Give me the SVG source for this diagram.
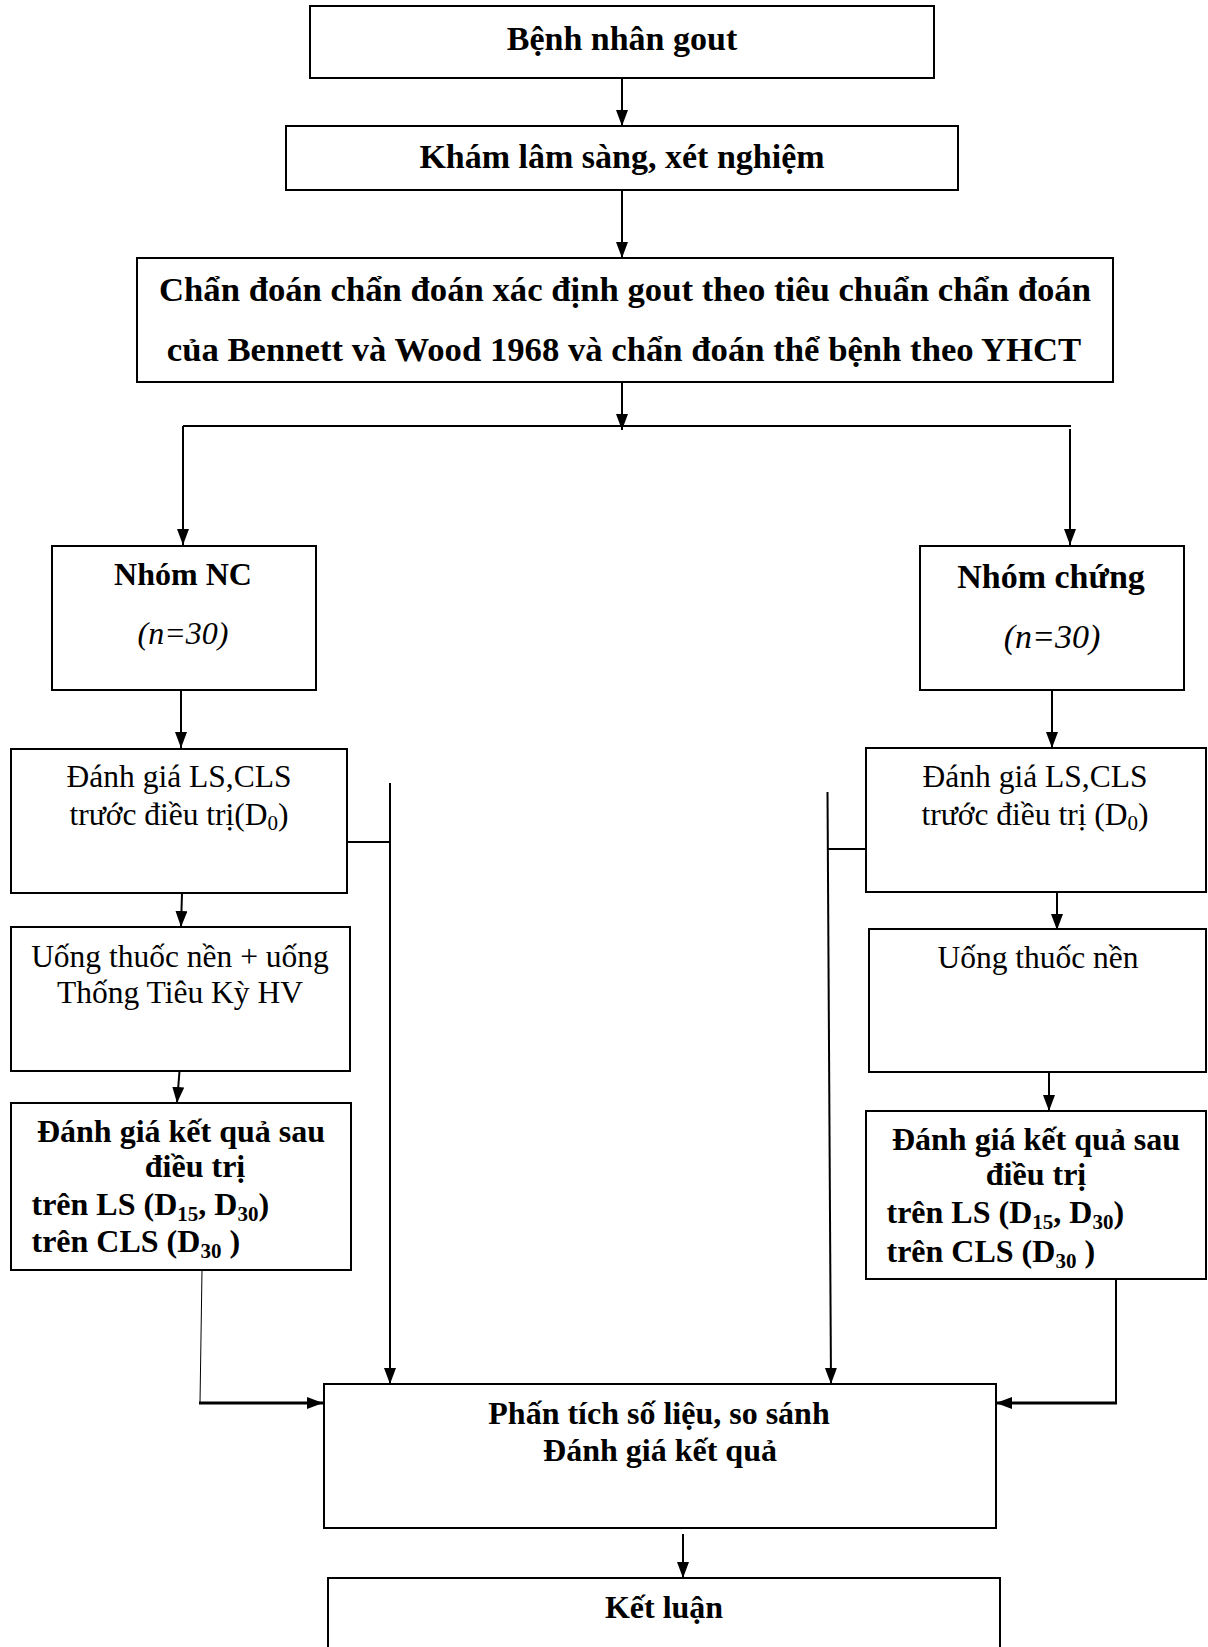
<svg xmlns="http://www.w3.org/2000/svg" width="1208" height="1647" viewBox="0 0 1208 1647">
<style>
rect.box{fill:#fff;stroke:#000;stroke-width:2}
text{font-family:"Liberation Serif","Times New Roman",serif;fill:#000}
.b{font-weight:bold;font-size:32px}
.b34{font-weight:bold;font-size:34px}
.r{font-size:31.5px}
.i{font-style:italic;font-size:32px}
.c{text-anchor:middle}
.cn path{fill:none;stroke:#000;stroke-width:2}
.cn path.thin{stroke-width:1}
.cn path.thick{stroke-width:3}
</style>
<defs>
<marker id="ah" markerUnits="userSpaceOnUse" markerWidth="18" markerHeight="14" refX="16" refY="6" orient="auto">
<path d="M0,0 L16,6 L0,12 z" fill="#000"/>
</marker>
</defs>
<rect width="1208" height="1647" fill="#fff"/>

<g class="cn">
<path d="M622,78 V126" marker-end="url(#ah)"/>
<path d="M622,190 V258" marker-end="url(#ah)"/>
<path d="M622,382 V430" marker-end="url(#ah)"/>
<path d="M183,426 H1071"/>
<path d="M183,426 V545" marker-end="url(#ah)"/>
<path d="M1070,429 V545" marker-end="url(#ah)"/>
<path d="M181,690 V748" marker-end="url(#ah)"/>
<path d="M1052,690 V748" marker-end="url(#ah)"/>
<path d="M347,842 H390"/>
<path d="M390,783 V1384" marker-end="url(#ah)"/>
<path d="M866,849 H827.5"/>
<path d="M827.5,792 L831,1384" marker-end="url(#ah)"/>
<path d="M182,893 L181,927" marker-end="url(#ah)"/>
<path d="M1057,893 V930" marker-end="url(#ah)"/>
<path d="M179.5,1071 L177,1103" marker-end="url(#ah)"/>
<path d="M1049,1071 V1111" marker-end="url(#ah)"/>
<path class="thin" d="M202,1270 L200,1403"/>
<path class="thick" d="M199,1403 H323" marker-end="url(#ah)"/>
<path d="M1116,1279 V1403"/>
<path class="thick" d="M1117,1403 H996" marker-end="url(#ah)"/>
<path d="M683,1534 V1578" marker-end="url(#ah)"/>
</g>

<g id="n1">
<rect class="box" x="310" y="6" width="624" height="72"/>
<text class="b34 c" x="622" y="50">Bệnh nhân gout</text>
</g>
<g id="n2">
<rect class="box" x="286" y="126" width="672" height="64"/>
<text class="b34 c" x="622" y="168">Khám lâm sàng, xét nghiệm</text>
</g>
<g id="n3">
<rect class="box" x="137" y="258" width="976" height="124"/>
<text class="b34 c" x="625" y="301" style="font-size:34.7px">Chẩn đoán chẩn đoán xác định gout theo tiêu chuẩn chẩn đoán</text>
<text class="b34 c" x="624" y="361" style="font-size:34.7px">của Bennett và Wood 1968 và chẩn đoán thể bệnh theo YHCT</text>
</g>
<g id="n4">
<rect class="box" x="52" y="546" width="264" height="144"/>
<text class="b c" x="183" y="585">Nhóm NC</text>
<text class="i c" x="183" y="644">(n=30)</text>
</g>
<g id="n5">
<rect class="box" x="920" y="546" width="264" height="144"/>
<text class="b34 c" x="1051" y="588">Nhóm chứng</text>
<text class="i c" x="1052" y="648" style="font-size:34px">(n=30)</text>
</g>
<g id="n6">
<rect class="box" x="11" y="749" width="336" height="144"/>
<text class="r c" x="179" y="787">Đánh giá LS,CLS</text>
<text class="r c" x="179" y="825">trước điều trị(D<tspan dy="5" font-size="21">0</tspan><tspan dy="-5">)</tspan></text>
</g>
<g id="n7">
<rect class="box" x="866" y="748" width="340" height="144"/>
<text class="r c" x="1035" y="787">Đánh giá LS,CLS</text>
<text class="r c" x="1035" y="825">trước điều trị (D<tspan dy="5" font-size="21">0</tspan><tspan dy="-5">)</tspan></text>
</g>
<g id="n8">
<rect class="box" x="11" y="927" width="339" height="144"/>
<text class="r c" x="180" y="967">Uống thuốc nền + uống</text>
<text class="r c" x="180" y="1003">Thống Tiêu Kỳ HV</text>
</g>
<g id="n9">
<rect class="box" x="869" y="929" width="337" height="143"/>
<text class="r c" x="1038" y="968">Uống thuốc nền</text>
</g>
<g id="n10">
<rect class="box" x="11" y="1103" width="340" height="167"/>
<text class="b c" x="181" y="1142">Đánh giá kết quả sau</text>
<text class="b c" x="195" y="1177">điều trị</text>
<text class="b" x="31.5" y="1215">trên LS (D<tspan dy="6" font-size="21">15</tspan><tspan dy="-6">, D</tspan><tspan dy="6" font-size="21">30</tspan><tspan dy="-6">)</tspan></text>
<text class="b" x="31.5" y="1252">trên CLS (D<tspan dy="6" font-size="21">30</tspan><tspan dy="-6"> )</tspan></text>
</g>
<g id="n11">
<rect class="box" x="866" y="1111" width="340" height="168"/>
<text class="b c" x="1036" y="1150">Đánh giá kết quả sau</text>
<text class="b c" x="1036" y="1185">điều trị</text>
<text class="b" x="886.5" y="1223">trên LS (D<tspan dy="6" font-size="21">15</tspan><tspan dy="-6">, D</tspan><tspan dy="6" font-size="21">30</tspan><tspan dy="-6">)</tspan></text>
<text class="b" x="886.5" y="1262">trên CLS (D<tspan dy="6" font-size="21">30</tspan><tspan dy="-6"> )</tspan></text>
</g>
<g id="n12">
<rect class="box" x="324" y="1384" width="672" height="144"/>
<text class="b c" x="659" y="1424">Phấn tích số liệu, so sánh</text>
<text class="b c" x="660" y="1461">Đánh giá kết quả</text>
</g>
<g id="n13">
<rect class="box" x="328" y="1578" width="672" height="120"/>
<text class="b c" x="664" y="1618">Kết luận</text>
</g>
</svg>
